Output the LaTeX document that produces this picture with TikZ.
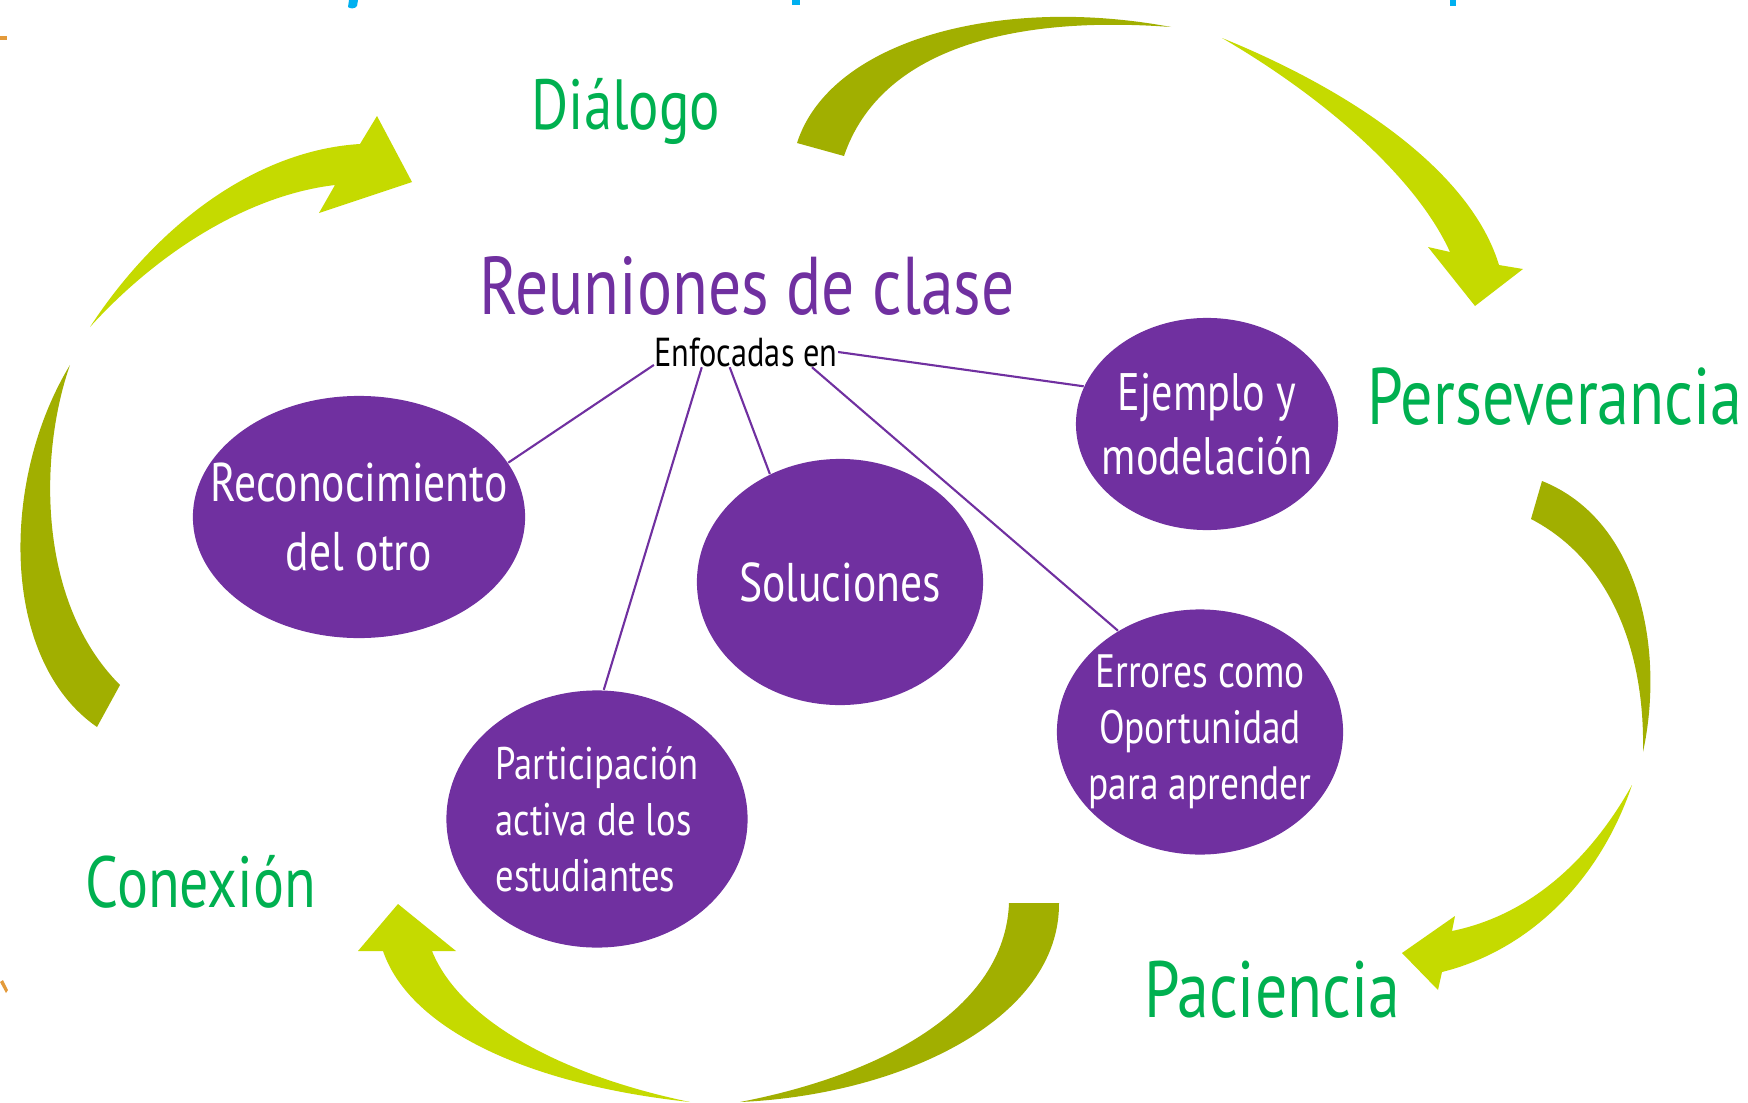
\documentclass[tikz,border=0pt]{standalone}
\usepackage{fontspec}
\usepackage{tikz}
\usetikzlibrary{shapes.geometric,positioning}
\newfontfamily\hand[FakeStretch=0.8]{PT Sans}
\definecolor{lblgreen}{HTML}{00B050}
\definecolor{bubblepurple}{HTML}{7030A0}
\definecolor{olivedark}{HTML}{A1AF00}
\definecolor{olivelight}{HTML}{C5DA00}
\definecolor{fragblue}{HTML}{00B0F0}
\definecolor{fragorange}{HTML}{E39A3A}
\tikzset{
  lbl/.style={text=lblgreen, inner sep=0pt},
  bubble/.style={ellipse, fill=bubblepurple, inner sep=0pt},
  bubbletext/.style={text=white, inner sep=0pt, align=center},
  link/.style={draw=bubblepurple, line width=0.6pt}
}

\begin{document}
\begin{tikzpicture}[x=0.01cm, y=-0.01cm]
\useasboundingbox (0,0) rectangle (1748,1103);

% cycle arrows
\fill[olivedark] (797,143) .. controls (830,40) and (1000,-5) .. (1171,27)
  .. controls (1010,15) and (880,50) .. (844,156) -- cycle;
\fill[olivelight] (1222,38) .. controls (1350,90) and (1470,170) .. (1499,265)
  -- (1523,269) -- (1475,306) -- (1428,247) -- (1450,252)
  .. controls (1415,175) and (1320,95) .. (1222,38) -- cycle;
\fill[olivedark] (1542,481) .. controls (1640,520) and (1665,650) .. (1643,752)
  .. controls (1645,650) and (1610,560) .. (1531,519) -- cycle;
\fill[olivelight] (1632,785) .. controls (1600,880) and (1530,950) .. (1442,972)
  -- (1438,990) -- (1402,953) -- (1455,916) -- (1452,931)
  .. controls (1530,915) and (1590,860) .. (1632,785) -- cycle;
\fill[olivedark] (1059,903) .. controls (1060,1020) and (900,1095) .. (740,1102)
  .. controls (880,1075) and (1005,1010) .. (1009,903) -- cycle;
\fill[olivelight] (690,1102) .. controls (530,1085) and (410,1030) .. (383,951)
  -- (358,951) -- (398,904) -- (456,951) -- (432,951)
  .. controls (460,1020) and (560,1075) .. (690,1102) -- cycle;
\fill[olivedark] (97,727) .. controls (0,660) and (0,480) .. (70,365)
  .. controls (40,450) and (35,600) .. (120,685) -- cycle;
\fill[olivelight] (90,327) .. controls (160,220) and (260,150) .. (360,144)
  -- (377,116) -- (412,182) -- (319,213) -- (335,185)
  .. controls (250,195) and (160,250) .. (90,327) -- cycle;

% cut-off fragments at the edges
\fill[fragblue] (349,0) -- (358,0) -- (357,6) .. controls (355,9) and (350,9) .. (348,7) -- cycle;
\fill[fragblue] (792,0) rectangle (800,5);
\fill[fragblue] (1450,0) rectangle (1456,6);
\fill[fragorange] (0,36) rectangle (7,40);
\fill[fragorange] (0,982) -- (3,980) -- (8,990) -- (6,993) -- cycle;

% labels
\node[lbl, font=\hand\fontsize{20.2}{24}\selectfont] (dial) at (626,111) {Diálogo};
\node[lbl, font=\hand\fontsize{22.8}{26}\selectfont] (pers) at (1555,397) {Perseverancia};
\node[lbl, font=\hand\fontsize{22.7}{26}\selectfont] (pac) at (1272,990) {Paciencia};
\node[lbl, font=\hand\fontsize{20.6}{24}\selectfont] (con) at (201,882) {Conexión};

\node[text=bubblepurple, inner sep=0pt, font=\hand\fontsize{23.3}{27}\selectfont] (title) at (747,286) {Reuniones de clase};
\node[inner sep=0pt, font=\hand\fontsize{11.5}{13}\selectfont] (enf) at (746,352) {Enfocadas en};

\node[bubble, minimum width=3.32cm, minimum height=2.42cm,
  label={[bubbletext, font=\hand\fontsize{15.5}{19.6}\selectfont]center:{Reconocimiento\\del otro}}] (rec) at (359,517) {};
\node[bubble, minimum width=2.86cm, minimum height=2.46cm,
  label={[bubbletext, font=\hand\fontsize{15.5}{19}\selectfont]center:{Soluciones}}] (sol) at (840,582) {};
\node[bubble, minimum width=2.62cm, minimum height=2.12cm,
  label={[bubbletext, font=\hand\fontsize{15}{18.4}\selectfont]center:{Ejemplo y\\modelación}}] (ejem) at (1207,424) {};
\node[bubble, minimum width=3.01cm, minimum height=2.57cm,
  label={[bubbletext, align=left, font=\hand\fontsize{13}{15.9}\selectfont]center:{Participación\\activa de los\\estudiantes}}] (part) at (597,819) {};
\node[bubble, minimum width=2.86cm, minimum height=2.45cm,
  label={[bubbletext, font=\hand\fontsize{13.3}{15.9}\selectfont]center:{Errores como\\Oportunidad\\para aprender}}] (err) at (1200,732) {};

\draw[link] (enf.188) -- (rec.20);
\draw[link] (enf.199) -- (part.87);
\draw[link] (enf.223) -- (sol.123);
\draw[link] (enf.-13) -- (err.129);
\draw[link] (enf.east) -- (ejem.163);
\end{tikzpicture}
\end{document}
